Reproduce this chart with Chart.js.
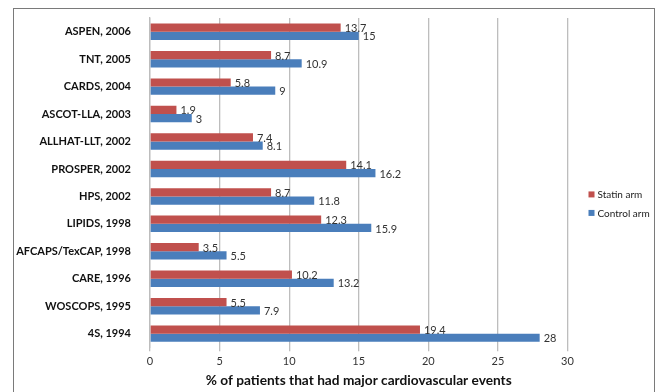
<!DOCTYPE html>
<html>
<head>
<meta charset="utf-8">
<script src="https://cdn.jsdelivr.net/npm/chart.js@4.4.1/dist/chart.umd.min.js"></script>
<style>
  html, body { margin: 0; padding: 0; background: #fff; overflow: hidden; }
  #frame {
    position: absolute; left: 13px; top: 8px; width: 642px; height: 420px;
    border: 1.5px solid #7a7a7a; box-sizing: border-box; background: #fff;
  }
  #wrap { position: absolute; left: 0; top: 0; width: 639px; height: 382px; }
</style>
</head>
<body>
<div id="frame"><div id="wrap"><canvas id="c"></canvas></div></div>
<script>
// Trials, top to bottom
const trials = [
  'ASPEN, 2006', 'TNT, 2005', 'CARDS, 2004', 'ASCOT-LLA, 2003',
  'ALLHAT-LLT, 2002', 'PROSPER, 2002', 'HPS, 2002', 'LIPIDS, 1998',
  'AFCAPS/TexCAP, 1998', 'CARE, 1996', 'WOSCOPS, 1995', '4S, 1994'
];
// % of patients with major cardiovascular events
const statinArm  = [13.7, 8.7, 5.8, 1.9, 7.4, 14.1, 8.7, 12.3, 3.5, 10.2, 5.5, 19.4];
const controlArm = [15, 10.9, 9, 3, 8.1, 16.2, 11.8, 15.9, 5.5, 13.2, 7.9, 28];
const xTicks = [0, 5, 10, 15, 20, 25, 30];

const FONT = 'Lato, "Open Sans", sans-serif';

// Writes each bar's value just past its end
const valueLabels = {
  id: 'valueLabels',
  afterDatasetsDraw(chart) {
    const ctx = chart.ctx;
    ctx.save();
    ctx.font = '11px ' + FONT;
    ctx.fillStyle = '#333';
    ctx.textAlign = 'left';
    ctx.textBaseline = 'middle';
    chart.data.datasets.forEach((ds, i) => {
      chart.getDatasetMeta(i).data.forEach((bar, j) => {
        ctx.fillText(String(ds.data[j]), bar.x + 4, bar.y + 1);
      });
    });
    ctx.restore();
  }
};

// Series key to the right of the plot, vertically centred
const sideLegend = {
  id: 'sideLegend',
  afterDraw(chart) {
    const ctx = chart.ctx;
    const area = chart.chartArea;
    const x = area.right + 21;
    const mid = (area.top + area.bottom) / 2 + 21;
    const gap = 18.5;
    const sets = chart.data.datasets;
    ctx.save();
    ctx.font = '10px ' + FONT;
    ctx.textAlign = 'left';
    ctx.textBaseline = 'middle';
    sets.forEach((ds, i) => {
      const y = mid + (i - (sets.length - 1) / 2) * gap;
      ctx.fillStyle = ds.backgroundColor;
      ctx.fillRect(x, y - 3, 6, 6);
      ctx.fillStyle = '#222';
      ctx.fillText(ds.label, x + 9, y + 0.5);
    });
    ctx.restore();
  }
};

new Chart(document.getElementById('c'), {
  type: 'bar',
  data: {
    labels: trials,
    datasets: [
      { label: 'Statin arm', data: statinArm, backgroundColor: '#C0504D' },
      { label: 'Control arm', data: controlArm, backgroundColor: '#4A7EBB' }
    ]
  },
  options: {
    indexAxis: 'y',
    responsive: true,
    maintainAspectRatio: false,
    animation: false,
    layout: { padding: { top: 9, right: 85.5, bottom: 2, left: 0 } },
    datasets: { bar: { categoryPercentage: 0.6, barPercentage: 1.0 } },
    plugins: {
      legend: { display: false },
      tooltip: { enabled: false }
    },
    scales: {
      x: {
        min: 0, max: 30,
        afterBuildTicks(scale) { scale.ticks = xTicks.map(v => ({ value: v })); },
        grid: { color: '#bdbdbd', lineWidth: 1.3, tickLength: 4, drawTicks: true },
        border: { display: false },
        ticks: { font: { family: FONT, size: 11 }, color: '#333', padding: 3 },
        title: {
          display: true,
          text: '% of patients that had major cardiovascular events',
          font: { family: FONT, size: 13.7, weight: 'bold' }, color: '#111',
          padding: { top: 2, bottom: 0 }
        }
      },
      y: {
        grid: { display: false },
        border: { display: true, color: '#bdbdbd', width: 1.3 },
        afterFit(scale) {
          scale.width = 136;
          scale.paddingTop = 0;
          scale.paddingBottom = 0;
        },
        ticks: { font: { family: FONT, size: 11, weight: 'bold' }, color: '#111', padding: 11 }
      }
    }
  },
  plugins: [valueLabels, sideLegend]
});
</script>
</body>
</html>
